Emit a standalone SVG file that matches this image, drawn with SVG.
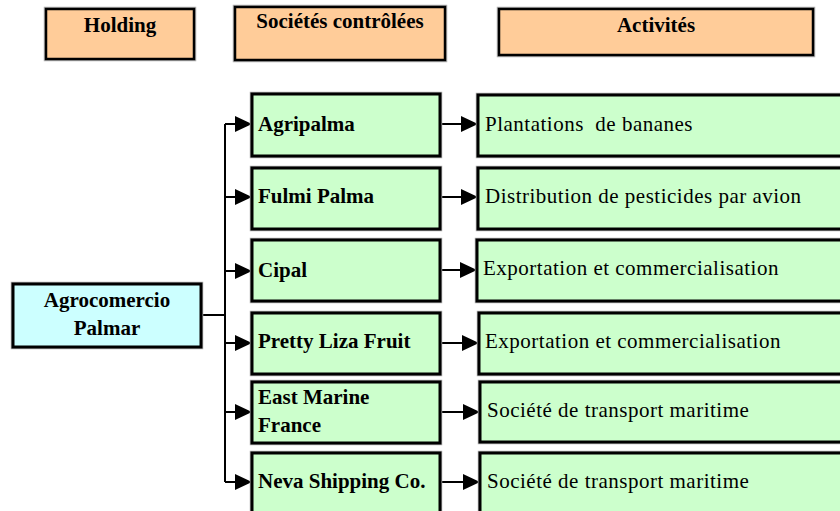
<svg xmlns="http://www.w3.org/2000/svg" width="840" height="511" viewBox="0 0 840 511">
<style>
.hdr{fill:#FFCC99;stroke:#000;stroke-width:2.5}
.grn{fill:#CCFFCC;stroke:#000;stroke-width:3}
.cyn{fill:#CCFFFF;stroke:#000;stroke-width:3}
.sh{fill:none;stroke:#b0b0b0;stroke-width:4.5}
.b{font-family:"Liberation Serif","Times New Roman",serif;font-weight:bold;font-size:21px;fill:#000}
.r{font-family:"Liberation Serif","Times New Roman",serif;font-size:21px;letter-spacing:0.5px;fill:#000}
.c{text-anchor:middle}
.ln{fill:none;stroke:#000;stroke-width:2;marker-end:url(#ah)}
</style>
<defs>
<marker id="ah" markerUnits="userSpaceOnUse" markerWidth="17" markerHeight="16" refX="17" refY="8" orient="auto">
<path d="M0,0 L17,8 L0,16 z" fill="#000"/>
</marker>
</defs>
<rect width="840" height="511" fill="#fff"/>
<g id="h-holding"><rect class="sh" x="46" y="9" width="148" height="50"/><rect class="hdr" x="46" y="9" width="148" height="50"/><text class="b c" x="120" y="32">Holding</text></g>
<g id="h-societes"><rect class="sh" x="235" y="7" width="210" height="53"/><rect class="hdr" x="235" y="7" width="210" height="53"/><text class="b c" x="340" y="28">Sociétés contrôlées</text></g>
<g id="h-activites"><rect class="sh" x="499" y="9" width="314" height="46"/><rect class="hdr" x="499" y="9" width="314" height="46"/><text class="b c" x="656" y="32">Activités</text></g>
<g id="connectors">
<path d="M201,315 H225" fill="none" stroke="#000" stroke-width="2"/>
<path d="M225,124 V482" fill="none" stroke="#000" stroke-width="2"/>
<path class="ln" d="M225,124 H252"/>
<path class="ln" d="M225,197 H252"/>
<path class="ln" d="M225,271 H252"/>
<path class="ln" d="M225,343 H252"/>
<path class="ln" d="M225,412 H252"/>
<path class="ln" d="M225,482 H252"/>
<path class="ln" d="M440,124 H478"/>
<path class="ln" d="M440,197 H478"/>
<path class="ln" d="M440,270 H477"/>
<path class="ln" d="M440,343 H479"/>
<path class="ln" d="M440,412 H480"/>
<path class="ln" d="M440,482 H480"/>
</g>
<g id="n-agrocomercio"><rect class="sh" x="13" y="284" width="188" height="63"/><rect class="cyn" x="13" y="284" width="188" height="63"/><text class="b c" x="107" y="307">Agrocomercio</text><text class="b c" x="107" y="335">Palmar</text></g>
<g id="n-agripalma"><rect class="sh" x="252" y="94" width="188" height="62"/><rect class="grn" x="252" y="94" width="188" height="62"/><text class="b" x="258" y="131">Agripalma</text></g>
<g id="n-fulmi"><rect class="sh" x="252" y="168" width="188" height="61"/><rect class="grn" x="252" y="168" width="188" height="61"/><text class="b" x="258" y="203">Fulmi Palma</text></g>
<g id="n-cipal"><rect class="sh" x="252" y="240" width="188" height="61"/><rect class="grn" x="252" y="240" width="188" height="61"/><text class="b" x="258" y="277">Cipal</text></g>
<g id="n-pretty"><rect class="sh" x="252" y="313" width="188" height="61"/><rect class="grn" x="252" y="313" width="188" height="61"/><text class="b" x="258" y="348">Pretty Liza Fruit</text></g>
<g id="n-east"><rect class="sh" x="252" y="382" width="188" height="61"/><rect class="grn" x="252" y="382" width="188" height="61"/><text class="b" x="258" y="404">East Marine</text><text class="b" x="258" y="432">France</text></g>
<g id="n-neva"><rect class="sh" x="252" y="453" width="188" height="62"/><rect class="grn" x="252" y="453" width="188" height="62"/><text class="b" x="258" y="488">Neva Shipping Co.</text></g>
<g id="a-1"><rect class="sh" x="478" y="95" width="370" height="61"/><rect class="grn" x="478" y="95" width="370" height="61"/><text class="r" x="485" y="131" xml:space="preserve">Plantations  de bananes</text></g>
<g id="a-2"><rect class="sh" x="478" y="168" width="370" height="61"/><rect class="grn" x="478" y="168" width="370" height="61"/><text class="r" x="485" y="203">Distribution de pesticides par avion</text></g>
<g id="a-3"><rect class="sh" x="477" y="240" width="370" height="61"/><rect class="grn" x="477" y="240" width="370" height="61"/><text class="r" x="483" y="275">Exportation et commercialisation</text></g>
<g id="a-4"><rect class="sh" x="479" y="313" width="370" height="61"/><rect class="grn" x="479" y="313" width="370" height="61"/><text class="r" x="485" y="348">Exportation et commercialisation</text></g>
<g id="a-5"><rect class="sh" x="480" y="382" width="370" height="60"/><rect class="grn" x="480" y="382" width="370" height="60"/><text class="r" x="487" y="417">Société de transport maritime</text></g>
<g id="a-6"><rect class="sh" x="480" y="453" width="370" height="62"/><rect class="grn" x="480" y="453" width="370" height="62"/><text class="r" x="487" y="488">Société de transport maritime</text></g>
</svg>
